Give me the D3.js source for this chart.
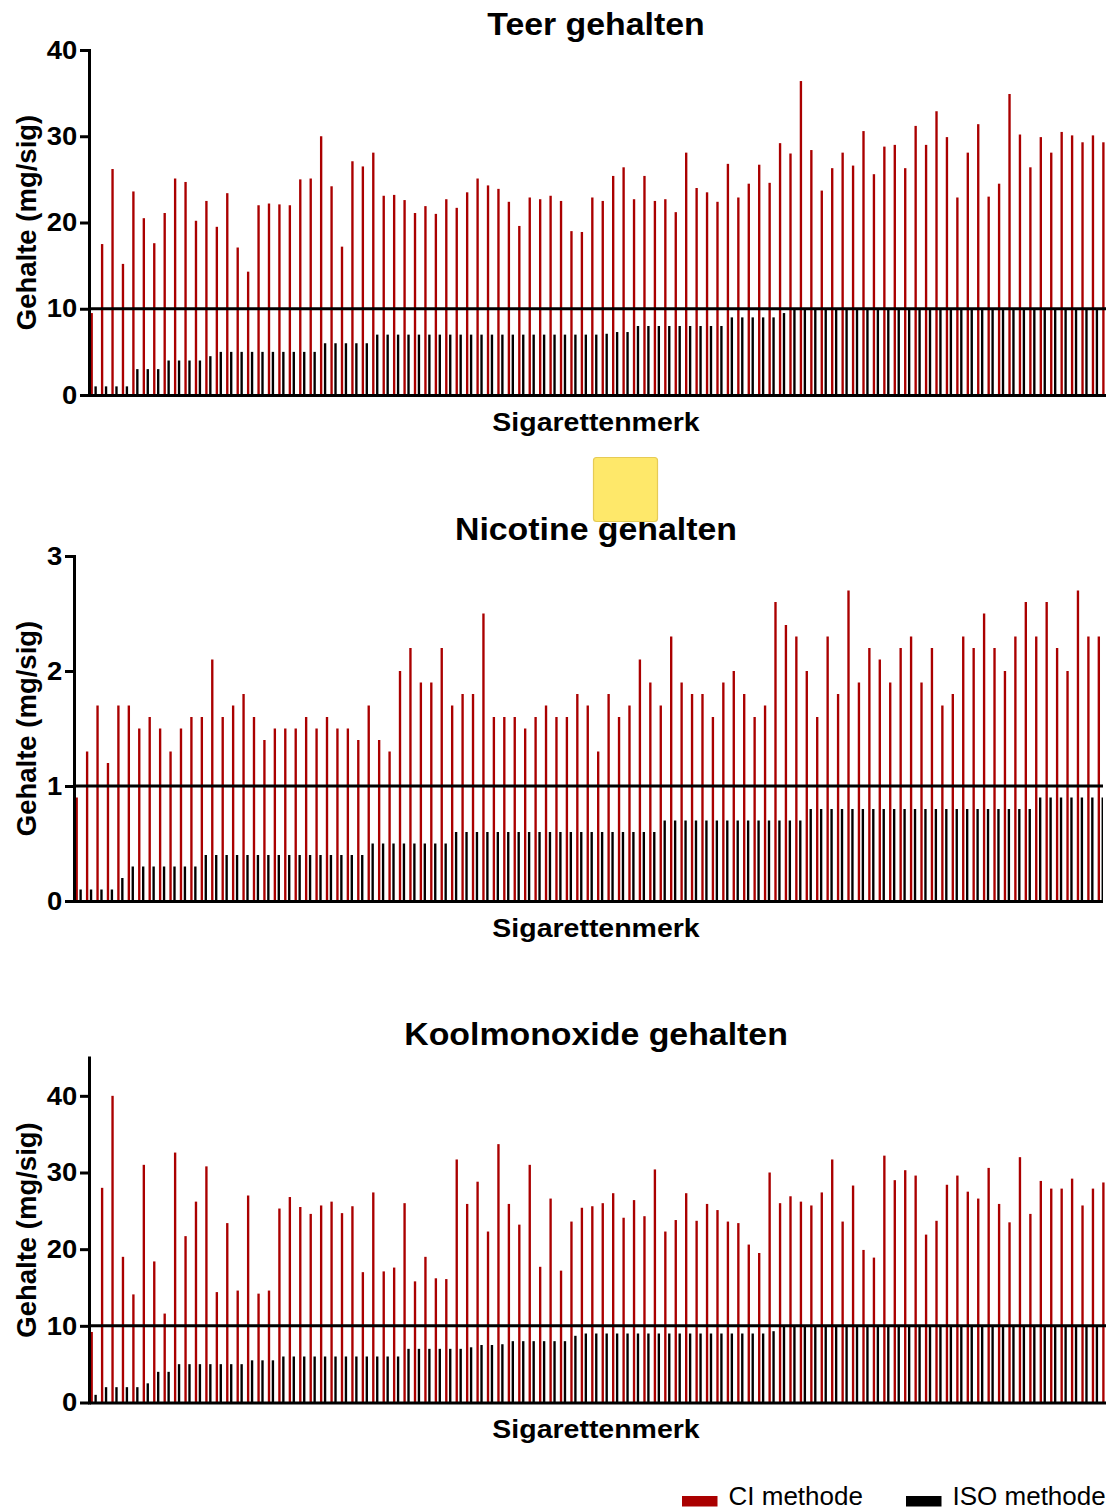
<!DOCTYPE html>
<html>
<head>
<meta charset="utf-8">
<script src="https://cdn.jsdelivr.net/npm/d3@7/dist/d3.min.js"></script>
<style>
  html, body { margin: 0; padding: 0; background: #fff; overflow: hidden; }
  svg { display: block; font-family: "Liberation Sans", Arial, Helvetica, sans-serif; }
</style>
</head>
<body>
<svg id="chart" width="1106" height="1510"></svg>
<script>
// ---------------- DATA ----------------
const seriesNames = ["CI methode", "ISO methode"];
const titles = ["Teer gehalten", "Nicotine gehalten", "Koolmonoxide gehalten"];
const xAxisLabel = "Sigarettenmerk";
const yAxisLabel = "Gehalte (mg/sig)";

const teerTicks = [0, 10, 20, 30, 40];
const nicotineTicks = [0, 1, 2, 3];
const coTicks = [0, 10, 20, 30, 40];

const teerCI = [9.5,17.5,26.2,15.2,23.6,20.5,17.6,21.1,25.1,24.7,20.2,22.5,19.5,23.4,17.1,14.3,22.0,22.2,22.1,22.0,
  25.0,25.1,30.0,24.2,17.2,27.1,26.5,28.1,23.1,23.2,22.6,21.1,21.9,21.0,22.7,21.7,23.5,25.1,24.3,23.9,
  22.4,19.6,22.9,22.7,23.1,22.5,19.0,18.9,22.9,22.5,25.4,26.4,22.7,25.4,22.5,22.7,21.2,28.1,24.0,23.5,
  22.4,26.8,22.9,24.5,26.7,24.6,29.2,28.0,36.4,28.4,23.7,26.3,28.1,26.6,30.6,25.6,28.8,29.0,26.3,31.2,
  29.0,32.9,29.9,22.9,28.1,31.4,23.0,24.5,34.9,30.2,26.4,29.9,28.1,30.5,30.1,29.3,30.1,29.3];
const teerISO = [1,1,1,1,3,3,3,4,4,4,4,4.5,5,5,5,5,5,5,5,5,
  5,5,6,6,6,6,6,7,7,7,7,7,7,7,7,7,7,7,7,7,
  7,7,7,7,7,7,7,7,7,7.1,7.3,7.3,8,8,8,8,8,8,8,8,
  8,9,9,9,9,9,9.5,10,10,10,10,10,10,10,10,10,10,10,10,10,
  10,10,10,10,10,10,10,10,10,10,10,10,10,10,10,10,10,10];

const nicotineCI = [0.9,1.3,1.7,1.2,1.7,1.7,1.5,1.6,1.5,1.3,1.5,1.6,1.6,2.1,1.6,1.7,1.8,1.6,1.4,1.5,
  1.5,1.5,1.6,1.5,1.6,1.5,1.5,1.4,1.7,1.4,1.3,2.0,2.2,1.9,1.9,2.2,1.7,1.8,1.8,2.5,
  1.6,1.6,1.6,1.5,1.6,1.7,1.6,1.6,1.8,1.7,1.3,1.8,1.6,1.7,2.1,1.9,1.7,2.3,1.9,1.8,
  1.8,1.6,1.9,2.0,1.8,1.6,1.7,2.6,2.4,2.3,2.0,1.6,2.3,1.8,2.7,1.9,2.2,2.1,1.9,2.2,
  2.3,1.9,2.2,1.7,1.8,2.3,2.2,2.5,2.2,2.0,2.3,2.6,2.3,2.6,2.2,2.0,2.7,2.3,2.3];
const nicotineISO = [0.1,0.1,0.1,0.1,0.2,0.3,0.3,0.3,0.3,0.3,0.3,0.3,0.4,0.4,0.4,0.4,0.4,0.4,0.4,0.4,
  0.4,0.4,0.4,0.4,0.4,0.4,0.4,0.4,0.5,0.5,0.5,0.5,0.5,0.5,0.5,0.5,0.6,0.6,0.6,0.6,
  0.6,0.6,0.6,0.6,0.6,0.6,0.6,0.6,0.6,0.6,0.6,0.6,0.6,0.6,0.6,0.6,0.7,0.7,0.7,0.7,
  0.7,0.7,0.7,0.7,0.7,0.7,0.7,0.7,0.7,0.7,0.8,0.8,0.8,0.8,0.8,0.8,0.8,0.8,0.8,0.8,
  0.8,0.8,0.8,0.8,0.8,0.8,0.8,0.8,0.8,0.8,0.8,0.8,0.9,0.9,0.9,0.9,0.9,0.9,0.9];

const coCI = [9.2,28.0,40.0,19.0,14.1,31.0,18.4,11.6,32.6,21.7,26.2,30.8,14.4,23.4,14.6,27.0,14.2,14.6,25.3,26.8,
  25.5,24.6,25.7,26.2,24.7,25.6,17.0,27.4,17.1,17.6,26.0,15.8,19.0,16.2,16.1,31.7,25.9,28.8,22.3,33.7,
  25.9,23.2,31.0,17.7,26.6,17.2,23.6,25.4,25.6,26.0,27.3,24.1,26.4,24.3,30.4,22.3,23.8,27.3,23.7,25.9,
  25.1,23.6,23.4,20.6,19.5,30.0,26.0,26.9,26.2,25.7,27.4,31.7,23.6,28.3,19.9,18.9,32.2,29.0,30.3,29.6,
  21.9,23.7,28.4,29.6,27.5,26.6,30.6,25.9,23.5,32.0,24.6,28.9,27.9,27.9,29.2,25.7,27.9,28.7];
const coISO = [1,2,2,2,2,2.5,4,4,5,5,5,5,5,5,5,5.5,5.5,5.5,6,6,
  6,6,6,6,6,6,6,6,6,6,7,7,7,7,7,7,7.2,7.5,7.5,7.6,
  8,8,8,8,8,8,8.7,9,9,9,9,9,9,9,9,9,9,9,9,9,
  9,9,9,9,9,9.3,10,10,10,10,10,10,10,10,10,10,10,10,10,10,
  10,10,10,10,10,10,10,10,10,10,10,10,10,10,10,10,10,10];

const refValues = [10, 1, 10];

// ---------------- LAYOUT / STYLE ----------------
const FONT = '"Liberation Sans", Arial, Helvetica, sans-serif';
const RED = "#aa0000";
const BLACK = "#000000";
const STEP = 10.43;     // width of one brand group
const SX = 1.075;       // slight horizontal stretch of the bold texts

const panels = [
  { title: titles[0], ci: teerCI, iso: teerISO, ticks: teerTicks, yMax: 40, ref: refValues[0],
    xLeft: 89, yBottom: 395, yTop: 50, titleY: 35, labelY: 431, clipRight: 1106 },
  { title: titles[1], ci: nicotineCI, iso: nicotineISO, ticks: nicotineTicks, yMax: 3, ref: refValues[1],
    xLeft: 74, yBottom: 901, yTop: 556, titleY: 540, labelY: 937, clipRight: 1103 },
  { title: titles[2], ci: coCI, iso: coISO, ticks: coTicks, yMax: 45, ref: refValues[2],
    xLeft: 89, yBottom: 1402.5, yTop: 1057.5, titleY: 1045, labelY: 1438, clipRight: 1106 }
];

const svg = d3.select("#chart");

function stretchedText(g, x, y, str, size, weight, sx) {
  return g.append("text")
    .attr("transform", `translate(${x},${y}) scale(${sx},1)`)
    .attr("text-anchor", "middle")
    .attr("font-family", FONT)
    .attr("font-size", size)
    .attr("font-weight", weight)
    .attr("fill", "#000")
    .text(str);
}

panels.forEach((p, pi) => {
  const n = p.ci.length;
  const g = svg.append("g");

  const x = d3.scaleBand()
    .domain(d3.range(n))
    .range([p.xLeft, p.xLeft + n * STEP])
    .paddingInner(0).paddingOuter(0);
  const xs = d3.scaleBand()
    .domain(seriesNames)
    .range([1.5, 7.8])
    .paddingInner(0.4).paddingOuter(0);
  const y = d3.scaleLinear().domain([0, p.yMax]).range([p.yBottom, p.yTop]);

  const clipId = "clip" + pi;
  svg.append("clipPath").attr("id", clipId)
    .append("rect").attr("x", 0).attr("y", p.yTop - 20)
    .attr("width", p.clipRight).attr("height", p.yBottom - p.yTop + 40);

  const plot = g.append("g").attr("clip-path", `url(#${clipId})`);

  const rows = d3.range(n).map(i => ({ i, vals: [
    { key: seriesNames[0], v: p.ci[i], color: RED },
    { key: seriesNames[1], v: p.iso[i], color: BLACK }
  ]}));

  plot.selectAll("g.brand").data(rows).join("g")
    .attr("class", "brand")
    .attr("transform", d => `translate(${x(d.i)},0)`)
    .selectAll("rect").data(d => d.vals.filter(v => v.v != null)).join("rect")
    .attr("x", d => xs(d.key))
    .attr("width", xs.bandwidth())
    .attr("y", d => y(d.v))
    .attr("height", d => y(0) - y(d.v))
    .attr("fill", d => d.color);

  // reference line
  plot.append("line")
    .attr("x1", p.xLeft).attr("x2", p.xLeft + n * STEP)
    .attr("y1", y(p.ref)).attr("y2", y(p.ref))
    .attr("stroke", "#000").attr("stroke-width", 3);

  // x axis (baseline only)
  const xAxis = d3.axisBottom(x).tickSize(0).tickSizeOuter(0).tickFormat("");
  const xg = plot.append("g").attr("transform", `translate(0,${p.yBottom})`).call(xAxis);
  xg.selectAll(".tick").remove();
  xg.select(".domain").attr("stroke-width", 3).attr("stroke", "#000");

  // y axis
  const yAxis = d3.axisLeft(y).tickValues(p.ticks).tickSize(9).tickSizeOuter(0).tickPadding(2)
    .tickFormat(d3.format("d"));
  const yg = g.append("g").attr("transform", `translate(${p.xLeft},0)`).call(yAxis);
  yg.select(".domain").attr("stroke-width", 3).attr("stroke-linecap", "square");
  yg.selectAll(".tick line").attr("stroke-width", 3);
  yg.selectAll(".tick text")
    .attr("font-family", FONT).attr("font-size", 25.5).attr("font-weight", "bold")
    .attr("fill", "#000")
    .attr("transform", `scale(${SX},1)`);

  // title and x label
  stretchedText(g, 596, p.titleY, p.title, 31.5, "bold", SX);
  stretchedText(g, 596, p.labelY, xAxisLabel, 26.5, "bold", SX);

  // y label
  g.append("text")
    .attr("transform", `translate(36,${(p.yTop + p.yBottom) / 2}) rotate(-90)`)
    .attr("text-anchor", "middle")
    .attr("font-family", FONT)
    .attr("font-size", 27.5)
    .attr("font-weight", "bold")
    .attr("fill", "#000")
    .text(yAxisLabel);
});

// legend
const legendColors = [RED, BLACK];
const legendX = [682, 906];
const legend = svg.append("g");
seriesNames.forEach((name, i) => {
  legend.append("rect")
    .attr("x", legendX[i]).attr("y", 1496)
    .attr("width", 35.5).attr("height", 10.5)
    .attr("fill", legendColors[i]);
  legend.append("text")
    .attr("x", legendX[i] + 46.5).attr("y", 1505)
    .attr("font-family", FONT).attr("font-size", 26)
    .attr("fill", "#000")
    .text(name);
});

// yellow marker box (drawn on top)
svg.append("rect")
  .attr("x", 593.5).attr("y", 457.5)
  .attr("width", 64).attr("height", 64)
  .attr("rx", 3).attr("ry", 3)
  .attr("fill", "#fee86a")
  .attr("stroke", "#e6cb55").attr("stroke-width", 1.2);
</script>
</body>
</html>
